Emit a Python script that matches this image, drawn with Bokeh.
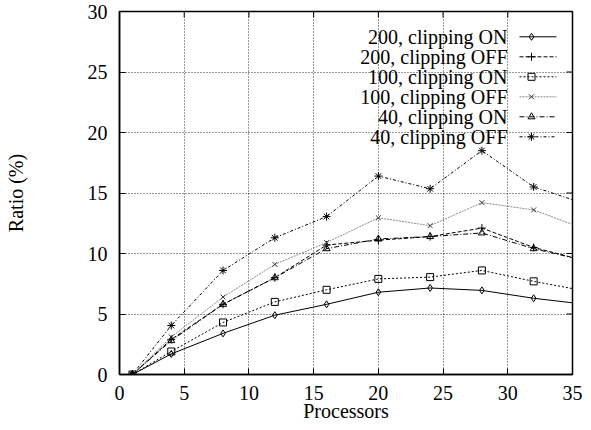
from bokeh.plotting import figure
from bokeh.models import Label, Range1d, FixedTicker
from bokeh.embed import file_html
from bokeh.resources import INLINE

# ---- data ----
processors = [1, 4, 8, 12, 16, 20, 24, 28, 32, 36]
r200_on = [0, 1.7, 3.4, 4.9, 5.8, 6.8, 7.15, 6.95, 6.3, 5.8]
r200_off = [0, 2.9, 5.8, 8.0, 10.7, 11.1, 11.4, 12.1, 10.5, 9.4]
r100_on = [0, 1.9, 4.3, 6.0, 7.0, 7.9, 8.05, 8.6, 7.7, 6.9]
r100_off = [0, 3.1, 6.4, 9.1, 10.9, 12.95, 12.3, 14.2, 13.6, 12.0]
r40_on = [0, 2.8, 5.8, 8.0, 10.4, 11.2, 11.4, 11.7, 10.4, 9.4]
r40_off = [0, 4.05, 8.6, 11.3, 13.05, 16.4, 15.35, 18.5, 15.5, 14.1]
series_names = ["200, clipping ON", "200, clipping OFF", "100, clipping ON",
                "100, clipping OFF", "40, clipping ON", "40, clipping OFF"]
x_ticks = [0, 5, 10, 15, 20, 25, 30, 35]
y_ticks = [0, 5, 10, 15, 20, 25, 30]

FONT = "Liberation Serif"
FS = "20px"

W, H = 583, 428
ML, MR, MT, MB = 119, 11, 11, 54
FW, FH = W - ML - MR, H - MT - MB
XMIN, XMAX, YMIN, YMAX = 0, 35, 0, 30
TICK = 6


def px_x(px):
    return XMIN + px / FW * (XMAX - XMIN)


def px_y(px_from_top):
    return YMAX - px_from_top / FH * (YMAX - YMIN)


p = figure(width=W, height=H, output_backend="svg", toolbar_location=None,
           x_range=Range1d(XMIN, XMAX), y_range=Range1d(YMIN, YMAX),
           min_border_left=ML, min_border_right=MR, min_border_top=MT,
           min_border_bottom=MB)
p.background_fill_color = "white"
p.border_fill_color = "white"
p.outline_line_color = "black"
p.outline_line_width = 1.5

for ax, ticks in ((p.xaxis, x_ticks), (p.yaxis, y_ticks)):
    ax.ticker = FixedTicker(ticks=ticks)
    ax.major_tick_in = TICK
    ax.major_tick_out = 0
    ax.minor_tick_line_color = None
    ax.axis_line_color = "black"
    ax.axis_line_width = 1.5
    ax.major_tick_line_color = "black"
    ax.major_label_text_font = FONT
    ax.major_label_text_font_size = FS
    ax.major_label_text_color = "black"
    ax.axis_label_text_font = FONT
    ax.axis_label_text_font_size = FS
    ax.axis_label_text_font_style = "normal"
    ax.axis_label_text_color = "black"

p.xaxis.major_label_standoff = 11
p.yaxis.major_label_standoff = 12
p.yaxis.axis_label = "Ratio (%)"
p.yaxis.axis_label_standoff = 58
p.xaxis.axis_label = "Processors"
p.xaxis.axis_label_standoff = -3

# mirrored ticks on top and right borders
p.segment(x0=x_ticks, y0=[YMAX] * len(x_ticks), x1=x_ticks,
          y1=[px_y(TICK)] * len(x_ticks), line_color="black", line_width=1)
p.segment(x0=[XMAX] * len(y_ticks), y0=y_ticks, x1=[px_x(FW - TICK)] * len(y_ticks),
          y1=y_ticks, line_color="black", line_width=1)

p.xgrid.ticker = FixedTicker(ticks=x_ticks)
p.ygrid.ticker = FixedTicker(ticks=y_ticks)
for g in (p.xgrid, p.ygrid):
    g.grid_line_color = "black"
    g.grid_line_dash = "1 2"
    g.grid_line_width = 1
    g.grid_line_alpha = 0.8

styles = [
    (r200_on, "solid", "black", "black", "diamond", 7),
    (r200_off, "4 2", "black", "black", "cross", 8),
    (r100_on, "2 2", "black", "black", "square", 7),
    (r100_off, "2 1", "#8a8a8a", "#333333", "x", 7),
    (r40_on, "5 2 1 2", "black", "black", "triangle", 7),
    (r40_off, "3 2 1 2", "black", "black", "asterisk", 8),
]

for vals, dash, lc, mc, mk, sz in styles:
    p.line(processors, vals, line_color=lc, line_dash=dash, line_width=1)
    p.scatter(processors, vals, marker=mk, size=sz, line_color=mc,
              fill_color=None, line_width=1)

# legend (gnuplot style: text right-aligned, sample to the right)
for i, (name, st) in enumerate(zip(series_names, styles)):
    vals, dash, lc, mc, mk, sz = st
    yr = px_y(25.3 + 20 * i)
    p.add_layout(Label(x=px_x(388), y=yr, text=name, text_align="right",
                       text_baseline="middle", text_font=FONT,
                       text_font_size=FS, text_color="black"))
    p.line([px_x(400), px_x(437)], [yr, yr], line_color=lc, line_dash=dash,
           line_width=1)
    p.scatter([px_x(412)], [yr], marker=mk, size=sz, line_color=mc,
              fill_color=None, line_width=1)

open("out.html", "w").write(file_html(p, INLINE))
